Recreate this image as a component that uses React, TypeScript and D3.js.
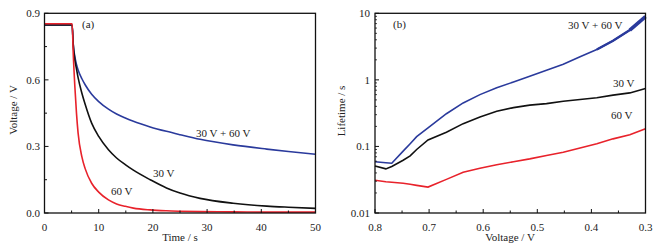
import React from "react";
import * as d3 from "d3";

// ---- Panel (a): voltage decay ----
const timeS = [0, 5.1, 5.3, 5.6, 5.9, 6.2, 6.9, 7.5, 8.7, 10, 11.8, 13.3, 14.9, 16.4, 19.5, 22.5, 25, 28.7, 34.8, 41, 45, 50];
const decayCombo = [0.847, 0.847, 0.76, 0.705, 0.67, 0.645, 0.605, 0.578, 0.535, 0.502, 0.468, 0.446, 0.428, 0.413, 0.388, 0.368, 0.353, 0.332, 0.307, 0.288, 0.277, 0.265];
const decay30 = [0.847, 0.847, 0.76, 0.69, 0.65, 0.61, 0.54, 0.49, 0.405, 0.345, 0.285, 0.248, 0.218, 0.193, 0.15, 0.113, 0.09, 0.066, 0.044, 0.031, 0.026, 0.021];
const decay60 = [0.853, 0.853, 0.72, 0.57, 0.45, 0.36, 0.253, 0.20, 0.134, 0.094, 0.059, 0.041, 0.03, 0.022, 0.014, 0.010, 0.008, 0.006, 0.005, 0.004, 0.004, 0.004];
const timeTicks = [0, 10, 20, 30, 40, 50];
const voltTicksA = [0, 0.3, 0.6, 0.9];

// ---- Panel (b): lifetime vs voltage ----
const voltB = [0.8, 0.78, 0.769, 0.748, 0.735, 0.723, 0.702, 0.668, 0.637, 0.606, 0.575, 0.544, 0.514, 0.483, 0.452, 0.421, 0.39, 0.36, 0.329, 0.3];
const lifeCombo = [0.059, 0.057, 0.056, 0.085, 0.11, 0.14, 0.19, 0.31, 0.45, 0.6, 0.76, 0.93, 1.13, 1.4, 1.72, 2.22, 2.86, 3.87, 5.6, 8.9];
const life30 = [0.051, 0.046, 0.05, 0.062, 0.072, 0.09, 0.125, 0.163, 0.22, 0.277, 0.337, 0.383, 0.417, 0.44, 0.478, 0.506, 0.54, 0.59, 0.637, 0.74];
const life60 = [0.031, 0.0295, 0.029, 0.028, 0.027, 0.026, 0.0245, 0.032, 0.041, 0.047, 0.053, 0.059, 0.065, 0.073, 0.082, 0.095, 0.11, 0.13, 0.15, 0.185];
const voltTicksB = [0.8, 0.7, 0.6, 0.5, 0.4, 0.3];
const lifeTicks = [0.01, 0.1, 1, 10];
const lifeTickLabels = ["0.01", "0.1", "1", "10"];

const BLUE = "#2a3a9c";
const RED = "#e8222b";
const BLACK = "#111111";
const FONT = "'Liberation Serif', 'Times New Roman', serif";

export default function App() {
  const top = 13.3, bottom = 213;
  const xA = d3.scaleLinear().domain([0, 50]).range([44.5, 315.5]);
  const yA = d3.scaleLinear().domain([0, 0.9]).range([bottom, top]);
  const xB = d3.scaleLinear().domain([0.8, 0.3]).range([375, 645.5]);
  const yB = d3.scaleLog().domain([0.01, 10]).range([bottom, top]);

  const lineA = (vals: number[]) =>
    d3.line<number>().x((_, i) => xA(timeS[i])).y((d) => yA(d)).curve(d3.curveMonotoneX)(vals) || "";
  const lineB = (vals: number[]) =>
    d3.line<number>().x((_, i) => xB(voltB[i])).y((d) => yB(d))(vals) || "";

  const minorA = d3.range(5, 50, 10);
  const minorAy = [0.15, 0.45, 0.75];
  const minorB = [0.75, 0.65, 0.55, 0.45, 0.35];
  const minorLog: number[] = [];
  [0.01, 0.1, 1].forEach((d) => { for (let k = 2; k <= 9; k++) minorLog.push(d * k); });

  // thick noisy tail of combo curve
  const tailIdx = voltB.map((v, i) => i).filter((i) => voltB[i] <= 0.39);
  const tailPath = d3.line<number>().x((i) => xB(voltB[i])).y((i) => yB(lifeCombo[i]))(tailIdx) || "";
  const tailIdx2 = voltB.map((v, i) => i).filter((i) => voltB[i] <= 0.33);
  const tailPath2 = d3.line<number>().x((i) => xB(voltB[i])).y((i) => yB(lifeCombo[i]))(tailIdx2) || "";

  const txt = { fontFamily: FONT, fontSize: 11, fill: "#222" } as const;

  return (
    <svg width={660} height={250} style={{ position: "absolute", left: 0, top: 0, background: "#fff" }}>
      {/* ---------- Panel (a) ---------- */}
      <g>
        <path d={lineA(decayCombo)} fill="none" stroke={BLUE} strokeWidth={1.6} />
        <path d={lineA(decay30)} fill="none" stroke={BLACK} strokeWidth={1.6} />
        <path d={lineA(decay60)} fill="none" stroke={RED} strokeWidth={1.6} />
        <rect x={xA(0)} y={top} width={xA(50) - xA(0)} height={bottom - top} fill="none" stroke="#111" strokeWidth={1.3} />
        {timeTicks.map((t) => (
          <g key={"xa" + t}>
            <line x1={xA(t)} x2={xA(t)} y1={bottom} y2={bottom - 4} stroke="#111" />
            <text x={xA(t)} y={231} textAnchor="middle" {...txt}>{t}</text>
          </g>
        ))}
        {minorA.map((t) => (
          <line key={"xam" + t} x1={xA(t)} x2={xA(t)} y1={bottom} y2={bottom - 2.5} stroke="#111" />
        ))}
        {voltTicksA.map((v) => (
          <g key={"ya" + v}>
            <line x1={xA(0)} x2={xA(0) + 4} y1={yA(v)} y2={yA(v)} stroke="#111" />
            <text x={40} y={yA(v) + 3.8} textAnchor="end" {...txt}>{v.toFixed(1)}</text>
          </g>
        ))}
        {minorAy.map((v) => (
          <line key={"yam" + v} x1={xA(0)} x2={xA(0) + 2.5} y1={yA(v)} y2={yA(v)} stroke="#111" />
        ))}
        <text x={180} y={241} textAnchor="middle" {...txt}>Time / s</text>
        <text transform="translate(17,110) rotate(-90)" textAnchor="middle" {...txt}>Voltage / V</text>
        <text x={82} y={28} {...txt}>(a)</text>
        <text x={196} y={137} {...txt}>30 V + 60 V</text>
        <text x={153} y={177} {...txt}>30 V</text>
        <text x={111} y={195} {...txt}>60 V</text>
      </g>

      {/* ---------- Panel (b) ---------- */}
      <g>
        <path d={lineB(life60)} fill="none" stroke={RED} strokeWidth={1.6} />
        <path d={lineB(life30)} fill="none" stroke={BLACK} strokeWidth={1.6} />
        <path d={lineB(lifeCombo)} fill="none" stroke={BLUE} strokeWidth={1.6} />
        <path d={tailPath} fill="none" stroke={BLUE} strokeWidth={2.4} />
        <path d={tailPath2} fill="none" stroke={BLUE} strokeWidth={3.6} />
        <rect x={xB(0.8)} y={top} width={xB(0.3) - xB(0.8)} height={bottom - top} fill="none" stroke="#111" strokeWidth={1.3} />
        {voltTicksB.map((v) => (
          <g key={"xb" + v}>
            <line x1={xB(v)} x2={xB(v)} y1={bottom} y2={bottom - 4} stroke="#111" />
            <text x={xB(v)} y={231} textAnchor="middle" {...txt}>{v.toFixed(1)}</text>
          </g>
        ))}
        {minorB.map((v) => (
          <line key={"xbm" + v} x1={xB(v)} x2={xB(v)} y1={bottom} y2={bottom - 2.5} stroke="#111" />
        ))}
        {lifeTicks.map((v, i) => (
          <g key={"yb" + v}>
            <line x1={xB(0.8)} x2={xB(0.8) + 4} y1={yB(v)} y2={yB(v)} stroke="#111" />
            <text x={370} y={yB(v) + 3.8} textAnchor="end" {...txt}>{lifeTickLabels[i]}</text>
          </g>
        ))}
        {minorLog.map((v) => (
          <line key={"ybm" + v} x1={xB(0.8)} x2={xB(0.8) + 2} y1={yB(v)} y2={yB(v)} stroke="#111" strokeWidth={0.8} />
        ))}
        <text x={510} y={241} textAnchor="middle" {...txt}>Voltage / V</text>
        <text transform="translate(345,111) rotate(-90)" textAnchor="middle" {...txt}>Lifetime / s</text>
        <text x={393} y={28} {...txt}>(b)</text>
        <text x={568} y={29} {...txt}>30 V + 60 V</text>
        <text x={613} y={87} {...txt}>30 V</text>
        <text x={611} y={119} {...txt}>60 V</text>
      </g>
    </svg>
  );
}
